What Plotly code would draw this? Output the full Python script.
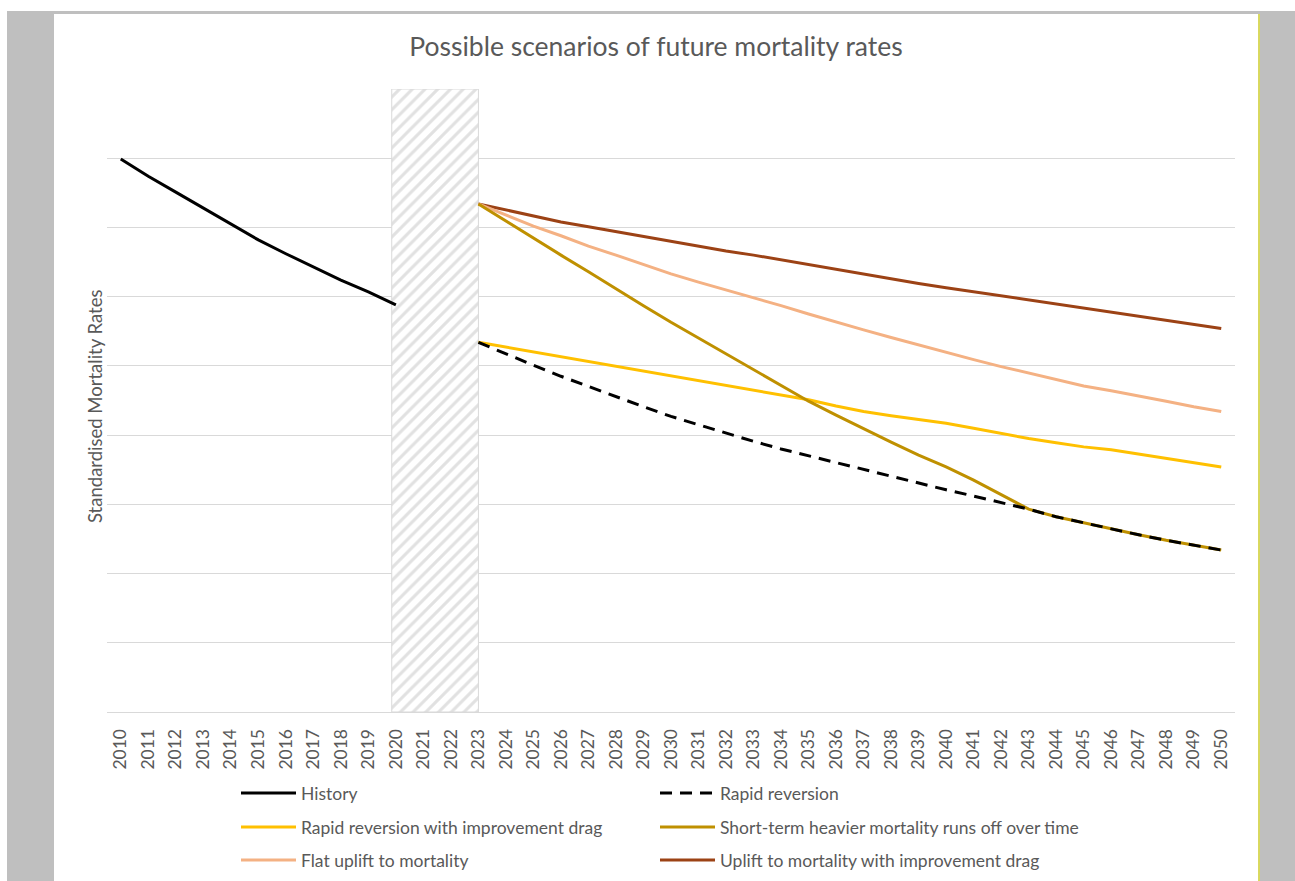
import plotly.graph_objects as go

# ---- data -------------------------------------------------------------
history_years = list(range(2010, 2021))
history = [7.99, 7.74, 7.51, 7.28, 7.04, 6.82, 6.62, 6.43, 6.24, 6.07, 5.88]

proj_years = list(range(2023, 2051))
rapid_reversion = [5.34, 5.17, 5.01, 4.85, 4.70, 4.55, 4.41, 4.27, 4.15, 4.02,
                   3.91, 3.80, 3.70, 3.60, 3.50, 3.40, 3.31, 3.21, 3.12, 3.03,
                   2.93, 2.82, 2.73, 2.64, 2.56, 2.48, 2.41, 2.34]
rapid_reversion_drag = [5.34, 5.27, 5.20, 5.13, 5.06, 4.99, 4.92, 4.85, 4.78, 4.72,
                        4.65, 4.58, 4.51, 4.42, 4.34, 4.28, 4.23, 4.17, 4.10, 4.02,
                        3.95, 3.89, 3.83, 3.79, 3.73, 3.67, 3.60, 3.54]
short_term_heavier = [7.34, 7.09, 6.85, 6.60, 6.36, 6.11, 5.87, 5.63, 5.40, 5.17,
                      4.94, 4.71, 4.49, 4.29, 4.09, 3.90, 3.71, 3.54, 3.35, 3.14,
                      2.93, 2.82, 2.73, 2.64, 2.56, 2.48, 2.41, 2.34]
flat_uplift = [7.34, 7.18, 7.02, 6.88, 6.73, 6.60, 6.46, 6.33, 6.21, 6.10,
               5.98, 5.87, 5.75, 5.63, 5.52, 5.41, 5.30, 5.19, 5.09, 4.99,
               4.90, 4.80, 4.71, 4.64, 4.57, 4.49, 4.41, 4.34]
uplift_drag = [7.34, 7.25, 7.17, 7.08, 7.01, 6.94, 6.86, 6.79, 6.73, 6.66,
               6.60, 6.53, 6.47, 6.40, 6.33, 6.26, 6.19, 6.13, 6.07, 6.01,
               5.95, 5.89, 5.84, 5.77, 5.71, 5.66, 5.60, 5.54]

# pandemic period drawn as a hatched band
band_start, band_end = 2019.85, 2023.0
y_max = 9

tick_years = list(range(2010, 2051))

FONT = "Lato"
TEXT = "#595959"
GRID = "#d9d9d9"

# ---- figure -----------------------------------------------------------
W, H = 1295, 881
L, R, T, B = 107, 60, 89, 169
pw, ph = W - L - R, H - T - B


def px(x):
    return (x - L) / pw


def py(y):
    return (H - B - y) / ph


fig = go.Figure()

# name, x, y, colour, dash, legend column, legend row
series = [
    ("History", history_years, history, "#000000", "solid", 0, 0),
    ("Rapid reversion", proj_years, rapid_reversion, "#000000", "12px,8px", 1, 0),
    ("Rapid reversion with improvement drag", proj_years, rapid_reversion_drag, "#FFC000", "solid", 0, 1),
    ("Short-term heavier mortality runs off over time", proj_years, short_term_heavier, "#BF9000", "solid", 1, 1),
    ("Flat uplift to mortality", proj_years, flat_uplift, "#F4B183", "solid", 0, 2),
    ("Uplift to mortality with improvement drag", proj_years, uplift_drag, "#9C4215", "solid", 1, 2),
]

legend_cols = [236, 655]
legend_rows = [793, 827, 860]

legend_common = dict(
    orientation="h", xanchor="left", yanchor="middle",
    font=dict(family=FONT, size=17.5, color=TEXT),
    bgcolor="rgba(0,0,0,0)", itemwidth=55,
)

legends = {}
# draw order: later series on top
draw_order = [5, 4, 2, 3, 1, 0]
for i in draw_order:
    name, xs, ys, color, dash, col, row = series[i]
    key = "legend" if i == 0 else f"legend{i + 1}"
    legends[key] = dict(x=px(legend_cols[col]), y=py(legend_rows[row]), **legend_common)
    fig.add_trace(go.Scatter(
        x=xs, y=ys, name=name, mode="lines",
        line=dict(color=color, width=3, dash=dash),
        legend=key,
    ))

# hatched band sits over the end of the history line
fig.add_trace(go.Bar(
    x=[(band_start + band_end) / 2], y=[y_max], base=[0],
    width=[band_end - band_start],
    marker=dict(color="white", line=dict(color=GRID, width=1),
                pattern=dict(shape="/", fgcolor="#c4c4c4", bgcolor="white",
                             size=9, solidity=0.35)),
    showlegend=False, hoverinfo="skip",
))

shapes = [
    # white page behind the grey frame
    dict(type="rect", xref="paper", yref="paper", x0=px(-20), x1=px(W + 20),
         y0=py(11), y1=py(-20), fillcolor="white", line_width=0, layer="below"),
    dict(type="rect", xref="paper", yref="paper", x0=px(-20), x1=px(7),
         y0=py(H + 20), y1=py(-20), fillcolor="white", line_width=0, layer="below"),
    # chart card
    dict(type="rect", xref="paper", yref="paper", x0=px(54), x1=px(1258),
         y0=py(H + 20), y1=py(14), fillcolor="white", line_width=0, layer="below"),
    dict(type="line", xref="paper", yref="paper", x0=px(1259), x1=px(1259),
         y0=py(H + 20), y1=py(14), line=dict(color="#f2f200", width=1), layer="below"),
]

fig.update_layout(
    width=W, height=H,
    margin=dict(l=L, r=R, t=T, b=B, pad=0, autoexpand=False),
    paper_bgcolor="#bfbfbf",
    plot_bgcolor="white",
    barmode="overlay",
    font=dict(family=FONT, color=TEXT),
    title=dict(text="Possible scenarios of future mortality rates",
               x=656 / W, xanchor="center",
               y=1 - 47 / H, yanchor="middle",
               font=dict(family=FONT, size=26.5, color=TEXT)),
    xaxis=dict(range=[2009.5, 2050.5], tickmode="array", tickvals=tick_years,
               ticktext=[str(t) for t in tick_years], tickangle=-90,
               tickfont=dict(family=FONT, size=17.5, color=TEXT),
               showgrid=False, showline=True, linecolor=GRID, linewidth=1,
               ticks="", ticklabelstandoff=9, zeroline=False, fixedrange=True),
    yaxis=dict(range=[0, y_max], dtick=1, showgrid=True, gridcolor=GRID,
               gridwidth=1, showticklabels=False, zeroline=False,
               showline=False, ticks="", fixedrange=True),
    shapes=shapes,
    annotations=[dict(text="Standardised Mortality Rates", xref="paper", yref="paper",
                      x=px(95), y=py(407), textangle=-90, showarrow=False,
                      xanchor="center", yanchor="middle",
                      font=dict(family=FONT, size=18.5, color=TEXT))],
    **legends,
)

fig.write_html("out.html")
